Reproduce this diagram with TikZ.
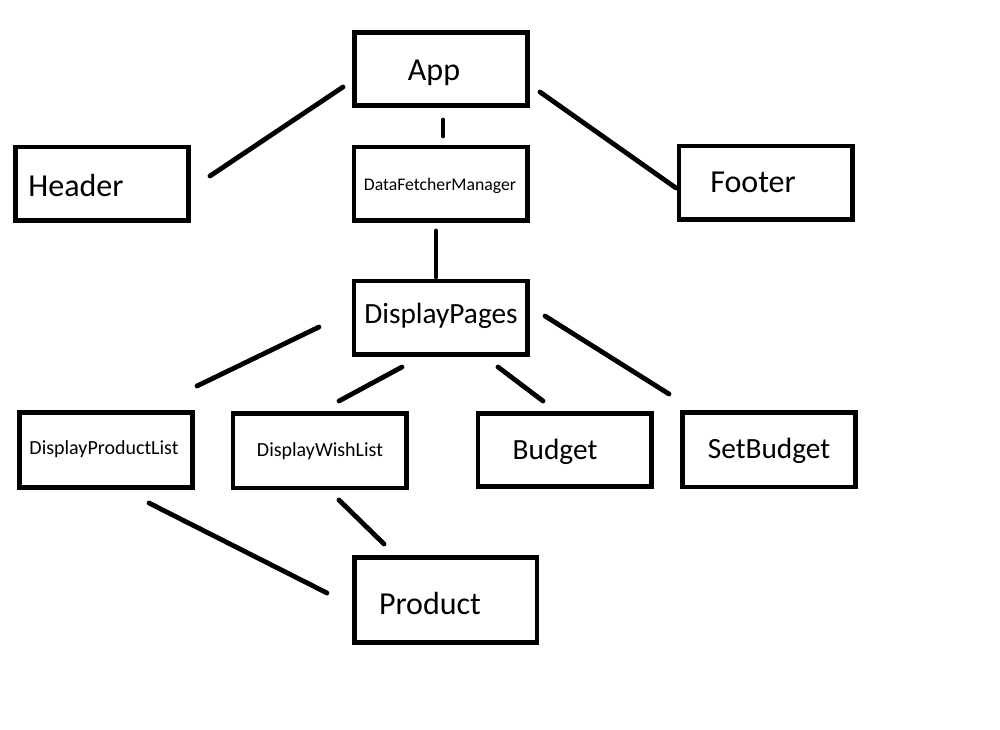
\documentclass[tikz,border=0pt]{standalone}
\usepackage{fontspec}
\setmainfont{Carlito}
\tikzset{
  caja/.style={draw, line width=3.5pt, minimum width=130pt, minimum height=55pt, inner sep=0pt},
  grande/.style={anchor=base, inner sep=0pt, font=\fontsize{24}{28}\selectfont},
  media/.style={anchor=base, inner sep=0pt, font=\fontsize{22}{26}\selectfont},
  chica/.style={anchor=base, inner sep=0pt, font=\fontsize{15}{18}\selectfont},
  mini/.style={anchor=base, inner sep=0pt, font=\fontsize{13.3}{16}\selectfont},
  enlace/.style={line width=3.6pt, line cap=round}
}
\begin{document}
\begin{tikzpicture}[x=0.75pt,y=-0.75pt]
    \useasboundingbox (0,0) rectangle (1000,729);

    % Dibuja las cajas
    \node[caja] (app) at (441,69) {};
    \node[caja] (header) at (102,183.5) {};
    \node[caja] (fetcher) at (440.5,183.5) {};
    \node[caja] (footer) at (765.5,182.5) {};
    \node[caja] (pages) at (440.5,317.5) {};
    \node[caja, minimum height=56pt] (productlist) at (106,450) {};
    \node[caja, minimum height=56pt] (wishlist) at (319.5,450.5) {};
    \node[caja] (budget) at (564.5,450) {};
    \node[caja, minimum height=56pt] (setbudget) at (769,449.5) {};
    \node[caja, minimum width=137pt, minimum height=64pt] (product) at (445.5,600) {};

    % Escribe los nombres
    \node[grande] (appT) at (434,80) {App};
    \node[grande] (headerT) at (76,196) {Header};
    \node[mini] (fetcherT) at (440,190) {DataFetcherManager};
    \node[grande] (footerT) at (753,192) {Footer};
    \node[media] (pagesT) at (441,323) {DisplayPages};
    \node[chica] (productlistT) at (104,454) {DisplayProductList};
    \node[chica] (wishlistT) at (320,456.5) {DisplayWishList};
    \node[media] (budgetT) at (555,459.5) {Budget};
    \node[media] (setbudgetT) at (769,458.5) {SetBudget};
    \node[grande] (productT) at (430,614) {Product};

    % Define los extremos de las lineas
    \coordinate (a1) at (343,87);   \coordinate (h1) at (210,176);
    \coordinate (a2) at (443,120);  \coordinate (f1) at (443,136);
    \coordinate (a3) at (540,92);   \coordinate (o1) at (676,188);
    \coordinate (f2) at (436,231);  \coordinate (p1) at (436,277);
    \coordinate (p2) at (319,327);  \coordinate (l1) at (197,386);
    \coordinate (p3) at (402,367);  \coordinate (w1) at (339,401);
    \coordinate (p4) at (498,367);  \coordinate (b1) at (543,401);
    \coordinate (p5) at (545,316);  \coordinate (s1) at (669,394);
    \coordinate (l2) at (149,503);  \coordinate (r1) at (327,593);
    \coordinate (w2) at (339,500);  \coordinate (r2) at (384,544);

    % Dibuja las lineas
    \draw[enlace] (a1)--(h1);
    \draw[enlace] (a2)--(f1);
    \draw[enlace] (a3)--(o1);
    \draw[enlace] (f2)--(p1);
    \draw[enlace] (p2)--(l1);
    \draw[enlace] (p3)--(w1);
    \draw[enlace] (p4)--(b1);
    \draw[enlace] (p5)--(s1);
    \draw[enlace] (l2)--(r1);
    \draw[enlace] (w2)--(r2);
\end{tikzpicture}
\end{document}
